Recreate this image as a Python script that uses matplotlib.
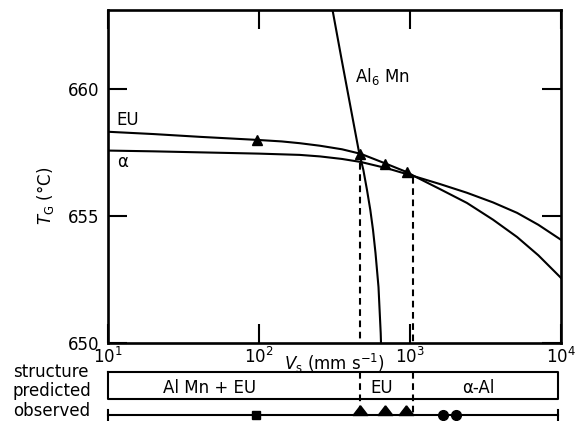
import numpy as np
import matplotlib
matplotlib.use("Agg")
import matplotlib.pyplot as plt

# ---- growth temperature curves (log10 of growth velocity, temperature) ----
eu_logv = [1.0, 1.3, 1.609, 1.987, 2.15, 2.27, 2.404, 2.55, 2.675, 2.834, 2.98, 3.033,
           3.2, 3.377, 3.55, 3.709, 3.85, 4.0]
eu_t = [658.31, 658.22, 658.11, 657.99, 657.93, 657.86, 657.76, 657.62, 657.44, 657.07,
        656.72, 656.55, 656.05, 655.51, 654.85, 654.17, 653.45, 652.56]

alpha_logv = [1.0, 1.3, 1.609, 2.0, 2.27, 2.404, 2.55, 2.675, 2.85, 3.033, 3.2, 3.377,
              3.55, 3.709, 3.85, 4.0]
alpha_t = [657.57, 657.54, 657.50, 657.45, 657.40, 657.34, 657.24, 657.12, 656.87,
           656.55, 656.25, 655.91, 655.53, 655.12, 654.65, 654.06]

al6mn_logv = [2.487, 2.546, 2.606, 2.662, 2.691, 2.7152, 2.737, 2.755, 2.7715, 2.7914,
              2.806, 2.808]
al6mn_t = [663.1, 661.19, 659.29, 657.52, 656.81, 656.02, 655.24, 654.45, 653.54, 652.20,
           650.39, 650.0]

# measured points lying on the EU curve
pts_v = [97, 470, 682, 950]
pts_t = [658.0, 657.45, 657.05, 656.72]

# predicted structure boundaries (velocity, temperature where the boundary starts)
bound_v = [470, 1045]
bound_t = [657.1, 656.55]

# predicted structure regions: (label, centre velocity)
regions = ["Al Mn + EU", "EU", "α-Al"]
region_v = [47.3, 653, 2820]

# observed structures along the velocity axis
obs_square_v = [96]
obs_triangle_v = [468, 682, 942]
obs_circle_v = [1656, 2018]

xticks = [10, 100, 1000, 10000]
xticklabels = [r"$10^{1}$", r"$10^{2}$", r"$10^{3}$", r"$10^{4}$"]
yticks = [650, 655, 660]

W, H = 579, 421
fig = plt.figure(figsize=(W / 100, H / 100), dpi=100)
plt.rcParams["font.family"] = ["DejaVu Sans"]
FS = 12
LW = 1.5

L, R, B, T = 108, 561, 343, 10
ax = fig.add_axes([L / W, 1 - B / H, (R - L) / W, (B - T) / H])
ax.set_xscale("log")
ax.set_xlim(10, 10000)
ax.set_ylim(650, 663.1)

ax.plot(10 ** np.array(eu_logv), eu_t, color="black", lw=LW)
ax.plot(10 ** np.array(alpha_logv), alpha_t, color="black", lw=LW)
ax.plot(10 ** np.array(al6mn_logv), al6mn_t, color="black", lw=LW)
ax.plot(pts_v, pts_t, linestyle="none", marker="^", color="black", ms=6.5)

dash = (0, (3.2, 2.2))
for v, t in zip(bound_v, bound_t):
    ax.plot([v, v], [t, 650], color="black", lw=LW, linestyle=dash)

ax.text(13.4, 658.78, "EU", fontsize=FS, ha="center", va="center")
ax.text(12.4, 657.13, "α", fontsize=FS, ha="center", va="center")
ax.text(432, 660.28, r"Al$_6$ Mn", fontsize=FS, ha="left", va="baseline")

for s in ax.spines.values():
    s.set_linewidth(1.9)
ax.set_xticks(xticks)
ax.set_xticklabels(xticklabels, fontsize=FS)
ax.xaxis.set_minor_locator(matplotlib.ticker.NullLocator())
ax.set_yticks(yticks)
ax.set_yticklabels([str(v) for v in yticks], fontsize=FS)
ax.tick_params(axis="both", direction="in", length=14, width=1.5,
               top=True, right=True)
ax.tick_params(axis="y", pad=6)
ax.tick_params(axis="x", pad=3)

ax.set_xlabel(r"$V_{\rm s}$ (mm s$^{-1}$)", fontsize=FS)
ax.xaxis.set_label_coords(0.5, -0.027)
ax.xaxis.label.set_va("top")
ax.set_ylabel(r"$T_{\rm G}$ (°C)", fontsize=FS)
ax.yaxis.set_label_coords(-0.139, 0.441)
ax.yaxis.label.set_va("center")

# ---- structure band beneath the plot ----
band = fig.add_axes([L / W, 0, (R - L) / W, (H - B) / H])
band.set_xscale("log")
band.set_xlim(10, 10000)
band.set_ylim(H, B)
band.axis("off")
band.patch.set_visible(False)

x_end = 9550
box_top, box_bot = 372, 399
band.plot([10, x_end, x_end, 10, 10], [box_top, box_top, box_bot, box_bot, box_top],
          color="black", lw=LW, clip_on=False)
for lab, v in zip(regions, region_v):
    band.text(v, 388, lab, fontsize=FS, ha="center", va="center")

obs_y = 415
band.plot([10, x_end], [obs_y, obs_y], color="black", lw=LW, clip_on=False)
for v in (10, x_end):
    band.plot([v, v], [obs_y - 5, obs_y + 6], color="black", lw=LW, clip_on=False)

for v in bound_v:
    band.plot([v, v], [box_top, obs_y], color="black", lw=LW, linestyle=dash,
              clip_on=False)

# triangle whose base sits on the observation line
tri_base = [(0, 1.3), (-1, 0), (1, 0), (0, 1.3)]
band.plot(obs_square_v, [obs_y] * len(obs_square_v), linestyle="none",
          marker="s", color="black", ms=6, clip_on=False)
band.plot(obs_triangle_v, [obs_y] * len(obs_triangle_v), linestyle="none",
          marker=tri_base, color="black", ms=14, clip_on=False)
band.plot(obs_circle_v, [obs_y] * len(obs_circle_v), linestyle="none",
          marker="o", color="black", ms=7, clip_on=False)

for lab, y in (("structure", 377), ("predicted", 396), ("observed", 416)):
    fig.text(13 / W, 1 - y / H, lab, fontsize=FS, ha="left", va="baseline")

fig.savefig("out.png", dpi=100)
